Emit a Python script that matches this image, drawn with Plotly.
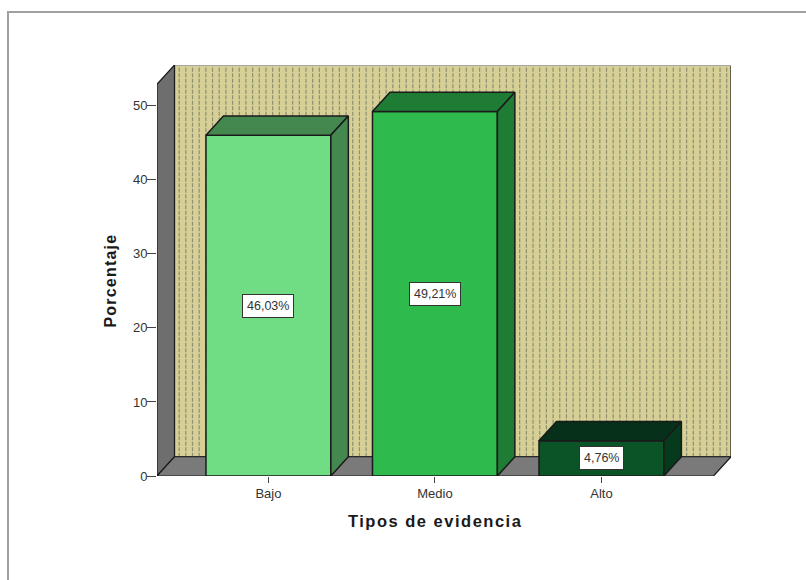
import numpy as np
import plotly.graph_objects as go

# Survey results: share of each evidence type
categories = ["Bajo", "Medio", "Alto"]
values = [46.03, 49.21, 4.76]
y_ticks = [0, 10, 20, 30, 40, 50]

front_colors = ["#70DD85", "#2EBA4C", "#0A5428"]
top_colors = ["#44884F", "#1E7C34", "#063019"]
side_colors = ["#44884F", "#1E7C34", "#063A1D"]

# Extent of the pseudo-3D box, in axis units
X_MIN, X_MAX = -0.669, 2.778
Y_MAX = 55.5
DX, DY = 0.105, 2.6
BAR_W = 0.75
FLOOR_RIGHT = X_MAX - DX
WALL_TOP = Y_MAX - DY
EDGE = "#1a1a1a"


def closed_path(points):
    return "M " + " L ".join(f"{x} {y}" for x, y in points) + " Z"


def box_shape(points, color, line_color=EDGE):
    return dict(type="path", path=closed_path(points), xref="x", yref="y",
                fillcolor=color, line=dict(color=line_color, width=1.2), layer="below")


def spaced(text, px):
    return f"<span style='letter-spacing:{px}px'>{text}</span>"


shapes = [
    # back wall
    box_shape([(X_MIN + DX, DY), (X_MAX, DY), (X_MAX, Y_MAX), (X_MIN + DX, Y_MAX)], "#D6CF96"),
]

# Dotted texture on the back wall
hatch_x = np.arange(X_MIN + DX + 0.028, X_MAX, 0.0401)
hatch_path = " ".join(f"M {x:.4f} {DY} L {x:.4f} {Y_MAX}" for x in hatch_x)
shapes.append(dict(type="path", path=hatch_path, xref="x", yref="y", layer="below",
                   line=dict(color="#8f8f72", width=1.2, dash="4px,1.5px")))

# Lighter top edge of the back wall
shapes.append(dict(type="line", x0=X_MIN + DX, x1=X_MAX, y0=Y_MAX, y1=Y_MAX, xref="x", yref="y",
                   layer="below", line=dict(color="#a8a8a8", width=2)))

shapes += [
    # left wall
    box_shape([(X_MIN, 0), (X_MIN + DX, DY), (X_MIN + DX, Y_MAX), (X_MIN, WALL_TOP)], "#6E6E6E"),
    # floor
    box_shape([(X_MIN, 0), (FLOOR_RIGHT, 0), (X_MAX, DY), (X_MIN + DX, DY)], "#7A7A7A"),
]

# Outer page frame
frame_left = (8 - 157) / 574
frame_top = 1 + (65 - 12) / 411
shapes.append(dict(type="path", xref="paper", yref="paper", layer="below",
                   path=f"M {frame_left} -0.3 L {frame_left} {frame_top} L 1.15 {frame_top}",
                   line=dict(color="#a0a0a0", width=2)))

fig = go.Figure()

fig.add_trace(go.Bar(
    x=list(range(len(categories))), y=values, width=BAR_W,
    marker=dict(color=front_colors, line=dict(color=EDGE, width=1.5)),
    hoverinfo="skip", showlegend=False,
))

# Top and side faces of each bar
for i, v in enumerate(values):
    l, r = i - BAR_W / 2, i + BAR_W / 2
    fig.add_trace(go.Scatter(
        x=[l, r, r + DX, l + DX, l], y=[v, v, v + DY, v + DY, v],
        mode="lines", fill="toself", fillcolor=top_colors[i],
        line=dict(color=EDGE, width=1.5), hoverinfo="skip", showlegend=False,
    ))
    fig.add_trace(go.Scatter(
        x=[r, r + DX, r + DX, r, r], y=[0, DY, v + DY, v, 0],
        mode="lines", fill="toself", fillcolor=side_colors[i],
        line=dict(color=EDGE, width=1.5), hoverinfo="skip", showlegend=False,
    ))

# Value labels centred on the front faces
annotations = [
    dict(x=i, y=v / 2, xref="x", yref="y", showarrow=False,
         text=f"{v:.2f}%".replace(".", ","),
         font=dict(family="Liberation Sans", size=12.5, color="#333333"),
         bgcolor="white", bordercolor="#333333", borderwidth=1, borderpad=4)
    for i, v in enumerate(values)
]

# Axis titles, placed under the middle bar and beside the lower wall
annotations += [
    dict(x=1, xref="x", y=-47 / 411, yref="paper", yshift=-9, showarrow=False,
         text=spaced("Tipos de evidencia", 1.5),
         font=dict(family="Liberation Sans", size=16.5, weight="bold", color="#1a1a1a")),
    dict(x=(110 - 157) / 574, xref="paper", xshift=-11, y=(475 - 280) / 411, yref="paper",
         showarrow=False, textangle=-90, text=spaced("Porcentaje", 1.2),
         font=dict(family="Liberation Sans", size=16, weight="bold", color="#1a1a1a")),
]

fig.update_layout(
    width=806, height=580,
    margin=dict(l=157, r=75, t=65, b=104, autoexpand=False),
    paper_bgcolor="white", plot_bgcolor="white",
    shapes=shapes, annotations=annotations, bargap=0.25,
    font=dict(family="Liberation Sans", color="#222222"),
    xaxis=dict(
        range=[X_MIN, X_MAX], tickvals=list(range(len(categories))), ticktext=categories,
        ticks="outside", ticklen=6, tickwidth=1, tickcolor="#444444",
        tickfont=dict(size=13, color="#333333"), ticklabelstandoff=-1,
        showgrid=False, zeroline=False, showline=False,
    ),
    yaxis=dict(
        range=[0, Y_MAX], tickvals=y_ticks, ticks="outside", ticklen=9, tickwidth=1,
        tickcolor="#444444", tickfont=dict(size=13, color="#333333"), ticklabelstandoff=-3,
        showgrid=False, zeroline=False, showline=False,
    ),
)

fig.write_html("out.html")
